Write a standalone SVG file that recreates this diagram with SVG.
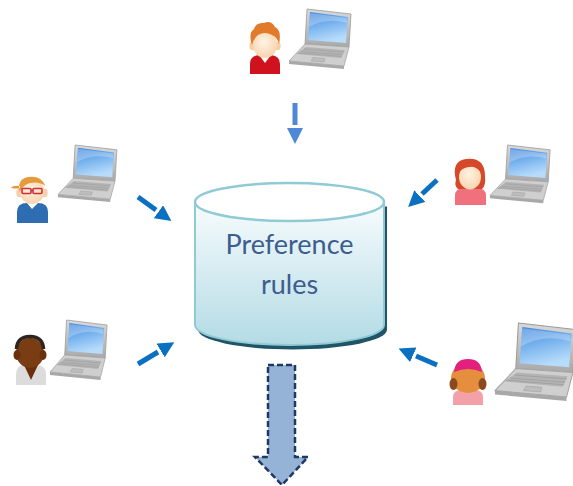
<svg xmlns="http://www.w3.org/2000/svg" width="573" height="486" viewBox="0 0 573 486">
  <style>
    .flow { fill: none; stroke: #0a70c2; stroke-width: 5; marker-end: url(#head); }
    .flow-light { fill: none; stroke: #4f88d6; stroke-width: 5; marker-end: url(#head-light); }
    .label { font-family: Lato, "Open Sans", "Liberation Sans", sans-serif; font-size: 27px; fill: #3d5d8f; text-anchor: middle; }
    .skin { fill: url(#skinGrad); }
    .ear { fill: #f5cfa8; }
  </style>
  <defs>
    <marker id="head" markerUnits="userSpaceOnUse" markerWidth="16" markerHeight="16" viewBox="0 0 16 16" refX="-3" refY="8" orient="auto">
      <path d="M0,0 L16,8 L0,16 Z" fill="#0a70c2"/>
    </marker>
    <marker id="head-light" markerUnits="userSpaceOnUse" markerWidth="16" markerHeight="16" viewBox="0 0 16 16" refX="-3" refY="8" orient="auto">
      <path d="M0,0 L16,8 L0,16 Z" fill="#4f88d6"/>
    </marker>
    <linearGradient id="bodyGrad" x1="0" y1="0" x2="0" y2="1">
      <stop offset="0" stop-color="#f7fcfd"/>
      <stop offset="1" stop-color="#b3dbe5"/>
    </linearGradient>
    <radialGradient id="skinGrad" cx="0.45" cy="0.4" r="0.65">
      <stop offset="0" stop-color="#fff3e4"/>
      <stop offset="1" stop-color="#f7d2ab"/>
    </radialGradient>
    <linearGradient id="screenGrad" x1="0" y1="0" x2="0.3" y2="1">
      <stop offset="0" stop-color="#3f86dc"/>
      <stop offset="0.55" stop-color="#7fb8f0"/>
      <stop offset="1" stop-color="#b7dcfb"/>
    </linearGradient>
    <linearGradient id="metalGrad" x1="0" y1="0" x2="0" y2="1">
      <stop offset="0" stop-color="#d9d9d9"/>
      <stop offset="1" stop-color="#a9a9a9"/>
    </linearGradient>
    <!-- laptop drawn in local units, placed with transforms -->
    <g id="laptop">
      <polygon points="18,0 62,5 60,38 16,35" fill="url(#metalGrad)" stroke="#9a9a9a" stroke-width="0.8"/>
      <polygon points="21,3 59,8 57,34 19,31" fill="url(#screenGrad)"/>
      <path d="M20,18 Q38,8 58,14 L58,9 L21,4 Z" fill="#ffffff" opacity="0.25"/>
      <polygon points="16,35 60,38 55,57 0,52" fill="#cfcfcf" stroke="#a5a5a5" stroke-width="0.8"/>
      <polygon points="0,52 55,57 55,60 0,55" fill="#a8a8a8"/>
      <polygon points="17,38 56,41 52,49 7,45" fill="#b4b4b4"/>
      <path d="M15,40 L55,43 M12,42.5 L54,45.5 M9,44 L53,47.5" stroke="#9c9c9c" stroke-width="0.6"/>
      <polygon points="24,48.5 36,49.5 35,53 22,52" fill="#bdbdbd" stroke="#a0a0a0" stroke-width="0.5"/>
    </g>
  </defs>

  <rect width="573" height="486" fill="#ffffff"/>

  <!-- shared rule store -->
  <g id="rules-store">
    <path d="M197,204 V327 A94.5,20 0 0 0 386,327 V204 Z" fill="#1f5566" transform="translate(1,2.5)"/>
    <path d="M195,202 V325 A94.5,20 0 0 0 384,325 V202 Z" fill="url(#bodyGrad)" stroke="#8fcad5" stroke-width="2"/>
    <ellipse cx="289.5" cy="202" rx="94.5" ry="19" fill="#ffffff" stroke="#8fcad5" stroke-width="2.5"/>
    <text class="label" x="289.5" y="254">Preference</text>
    <text class="label" x="289.5" y="294">rules</text>
  </g>

  <!-- user at the top -->
  <g id="user-top">
    <use href="#laptop" transform="translate(289,9)"/>
    <path d="M250,74 V64 Q250,56 259,55 H271 Q280,56 280,64 V74 Z" fill="#d0121e"/>
    <path d="M259,55 L265,63 L271,55 Z" fill="#ffffff"/>
    <ellipse class="ear" cx="252.5" cy="46" rx="3.2" ry="4.2"/>
    <ellipse class="ear" cx="277.5" cy="46" rx="3.2" ry="4.2"/>
    <ellipse class="skin" cx="265" cy="45" rx="12" ry="13"/>
    <path d="M252,45 Q248,33 254,29 Q256,22 264,23 Q271,20 275,27 Q282,30 279,44 Q277,37 272,35 Q265,31 258,35 Q254,38 252,45 Z" fill="#e27a2c"/>
  </g>

  <!-- user on the upper left -->
  <g id="user-left-top">
    <use href="#laptop" transform="translate(58,145) scale(0.95)"/>
    <path d="M17,223 V212 Q17,203 27,203 H38 Q48,203 48,212 V223 Z" fill="#2f6db3"/>
    <path d="M27,203 L32,209 L38,203 Z" fill="#ffffff"/>
    <ellipse class="ear" cx="19.5" cy="193" rx="3.2" ry="4.2"/>
    <ellipse class="ear" cx="44.5" cy="193" rx="3.2" ry="4.2"/>
    <ellipse class="skin" cx="32" cy="191.5" rx="12.5" ry="12.5"/>
    <path d="M19.5,192 Q17,179 28,177 Q41,175 45.5,186 Q39,181 30,183 Q24,184 19.5,192 Z M20,186 Q13,185 11,188 Q17,189 20,188 Z" fill="#e59a3c"/>
    <rect x="22" y="188.5" width="9" height="5" rx="1" fill="none" stroke="#d0303a" stroke-width="1.6"/>
    <rect x="33" y="188.5" width="9" height="5" rx="1" fill="none" stroke="#d0303a" stroke-width="1.6"/>
    <path d="M31,190.5 H33" stroke="#d0303a" stroke-width="1.4"/>
  </g>

  <!-- user on the lower left -->
  <g id="user-left-bottom">
    <use href="#laptop" transform="translate(50,320) scale(0.92,1)"/>
    <path d="M16,385 V374 Q16,365 26,365 H36 Q46,365 46,374 V385 Z" fill="#dcdcdc"/>
    <path d="M24,365 L31,380 L38,365 Z" fill="#6a300c"/>
    <ellipse cx="30" cy="353" rx="14" ry="15" fill="#7a3c12"/>
    <ellipse cx="17" cy="355" rx="3.5" ry="5" fill="#6a300c"/>
    <ellipse cx="43" cy="355" rx="3.5" ry="5" fill="#6a300c"/>
    <path d="M16.5,349 Q17,337 30,336.5 Q43,337 43.5,349" fill="none" stroke="#2e2420" stroke-width="3.5"/>
  </g>

  <!-- user on the upper right -->
  <g id="user-right-top">
    <use href="#laptop" transform="translate(490,145) scale(0.97)"/>
    <path d="M455,205 V196 Q455,188 464,188 H477 Q486,188 486,196 V205 Z" fill="#f0707e"/>
    <path d="M456,180 Q451,161 466,159 Q485,157 485,176 Q486,186 482,189 L458,189 Q454,186 456,180 Z" fill="#d6482a"/>
    <ellipse class="skin" cx="470" cy="177" rx="11" ry="12.5"/>
    <path d="M459,172 Q462,164 470,164 Q478,164 481,172 Q475,166 470,167 Q464,167 459,172 Z" fill="#d6482a"/>
  </g>

  <!-- user on the lower right -->
  <g id="user-right-bottom">
    <use href="#laptop" transform="translate(495,323) scale(1.3)"/>
    <path d="M453,405 V397 Q453,390 462,390 H474 Q483,390 483,397 V405 Z" fill="#f4a0a8"/>
    <ellipse cx="468" cy="378" rx="17" ry="15" fill="#e58f3e"/>
    <ellipse cx="453.5" cy="384" rx="4" ry="6" fill="#8a4a1e"/>
    <ellipse cx="482.5" cy="384" rx="4" ry="6" fill="#8a4a1e"/>
    <path d="M454,372 Q455,359 468,359 Q481,359 482,372 Q468,366 454,372 Z" fill="#e3207c"/>
  </g>

  <!-- flows into the store -->
  <g id="connectors">
    <path class="flow-light" d="M295,103 V125"/>
    <path class="flow" d="M138,197 L156,210"/>
    <path class="flow" d="M138,364 L158,352"/>
    <path class="flow" d="M437,180 L422,194"/>
    <path class="flow" d="M437,365 L416,356"/>
  </g>

  <!-- output of the store -->
  <g id="output-arrow">
    <path d="M268,365 H295 V457 H308 L282,485 L255,457 H268 Z" fill="#95b3d7" stroke="#1f3864" stroke-width="2.5" stroke-dasharray="6 3"/>
  </g>
</svg>
